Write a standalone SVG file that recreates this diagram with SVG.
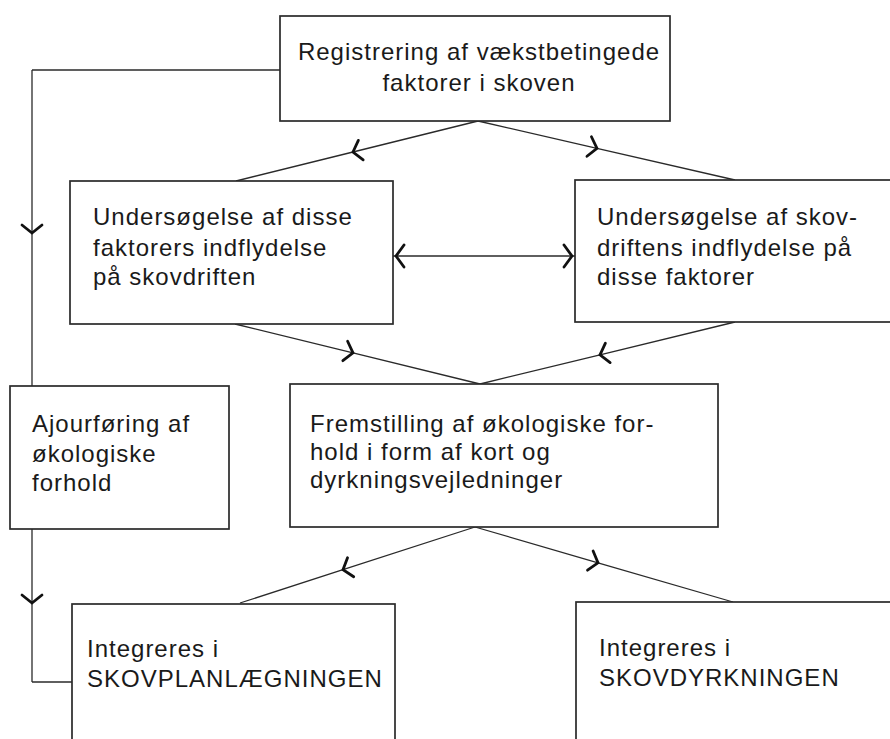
<svg xmlns="http://www.w3.org/2000/svg" width="890" height="739" viewBox="0 0 890 739">
<style>
.box{fill:#fff;stroke:#2a2a2a;stroke-width:1.7}
.ln{fill:none;stroke:#2a2a2a;stroke-width:1.3}
.chev{fill:none;stroke:#111;stroke-width:2.8;stroke-linecap:round;stroke-linejoin:miter}
text{font-family:"Liberation Sans",Arial,Helvetica,sans-serif;font-size:24px;letter-spacing:1px;fill:#1a1a1a}
</style>
<defs>
<marker id="mid" markerUnits="userSpaceOnUse" orient="auto" refX="0" refY="0" markerWidth="20" markerHeight="30" viewBox="-12 -15 20 30" style="overflow:visible">
<path class="chev" d="M-8,-10 L0,0 L-8,10"/>
</marker>
<marker id="end" markerUnits="userSpaceOnUse" orient="auto-start-reverse" refX="3" refY="0" markerWidth="20" markerHeight="30" viewBox="-12 -15 20 30" style="overflow:visible">
<path class="chev" d="M-8,-11 L0,0 L-8,11"/>
</marker>
</defs>
<rect width="890" height="739" fill="#fff"/>
<g id="connectors">
<path class="ln" d="M280,70 L32,70"/>
<path class="ln" d="M32,70 L32,233 L32,386" marker-mid="url(#mid)"/>
<path class="ln" d="M32,529 L32,603 L32,682" marker-mid="url(#mid)"/>
<path class="ln" d="M32,682 L72,682"/>
<path class="ln" d="M478,121 L353,152 L236,181" marker-mid="url(#mid)"/>
<path class="ln" d="M478,121 L597,148.3 L735,180" marker-mid="url(#mid)"/>
<path class="ln" d="M393,256 L575,256" marker-start="url(#end)" marker-end="url(#end)"/>
<path class="ln" d="M235,324 L353,352.9 L480,384" marker-mid="url(#mid)"/>
<path class="ln" d="M735,322 L600,354.8 L480,384" marker-mid="url(#mid)"/>
<path class="ln" d="M475,527 L343,569.7 L240,603" marker-mid="url(#mid)"/>
<path class="ln" d="M475,527 L598,562.8 L733,602" marker-mid="url(#mid)"/>
</g>
<g id="registrering">
<rect class="box" x="280" y="16" width="390" height="105"/>
<text x="479" y="60" text-anchor="middle">Registrering af vækstbetingede</text>
<text x="479" y="91" text-anchor="middle">faktorer i skoven</text>
</g>
<g id="undersoegelse-faktorer">
<rect class="box" x="70" y="181" width="323" height="143"/>
<text x="93" y="225">Undersøgelse af disse</text>
<text x="93" y="256">faktorers indflydelse</text>
<text x="93" y="285">på skovdriften</text>
</g>
<g id="undersoegelse-skovdrift">
<rect class="box" x="575" y="180" width="330" height="142"/>
<text x="597" y="225">Undersøgelse af skov-</text>
<text x="597" y="256">driftens indflydelse på</text>
<text x="597" y="285">disse faktorer</text>
</g>
<g id="ajourfoering">
<rect class="box" x="10" y="386" width="219" height="143"/>
<text x="32" y="432">Ajourføring af</text>
<text x="32" y="462">økologiske</text>
<text x="32" y="491">forhold</text>
</g>
<g id="fremstilling">
<rect class="box" x="290" y="384" width="428" height="143"/>
<text x="310" y="432">Fremstilling af økologiske for-</text>
<text x="310" y="460">hold i form af kort og</text>
<text x="310" y="488">dyrkningsvejledninger</text>
</g>
<g id="skovplanlaegning">
<rect class="box" x="72" y="604" width="323" height="150"/>
<text x="87" y="657">Integreres i</text>
<text x="87" y="687">SKOVPLANLÆGNINGEN</text>
</g>
<g id="skovdyrkning">
<rect class="box" x="576" y="602" width="330" height="150"/>
<text x="599" y="656">Integreres i</text>
<text x="599" y="686">SKOVDYRKNINGEN</text>
</g>
</svg>
